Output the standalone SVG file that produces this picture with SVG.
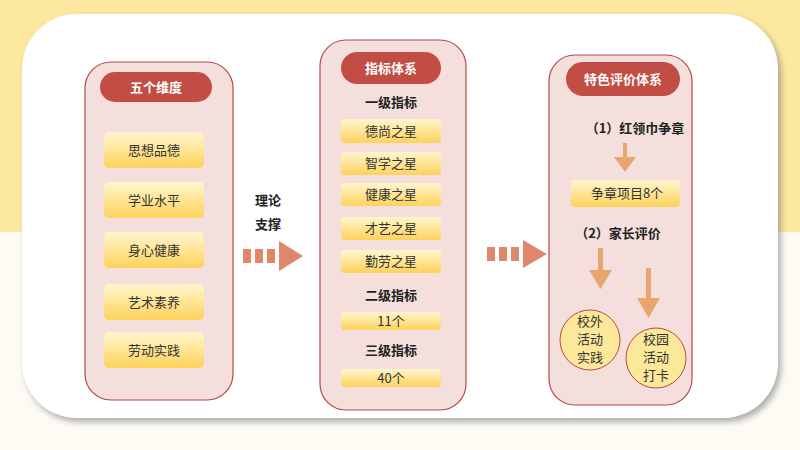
<svg xmlns="http://www.w3.org/2000/svg" width="800" height="450" viewBox="0 0 800 450">
<defs>
<linearGradient id="g" x1="0" y1="0" x2="0" y2="1"><stop offset="0" stop-color="#fff6cf"/><stop offset="1" stop-color="#fdd25a"/></linearGradient>
<filter id="sh" x="-5%" y="-5%" width="110%" height="115%"><feDropShadow dx="3" dy="4" stdDeviation="3" flood-color="#777" flood-opacity="0.6"/></filter>
</defs>
<style>
.col{fill:#f5dfdc;stroke:#b4494a;stroke-width:1.2}
.pill{fill:#c14d44}
.pt{fill:#fff;font:bold 13px "Noto Sans CJK SC",sans-serif;text-anchor:middle}
.it{fill:url(#g)}
.t{fill:#333;font:13px "Noto Sans CJK SC",sans-serif;text-anchor:middle}
.h{fill:#222;font:bold 13px "Noto Sans CJK SC",sans-serif;text-anchor:middle}
.ar{fill:#e8a56e}
.big{fill:#e0876a}
.c{fill:#fde89a;stroke:#b4494a;stroke-width:1}
</style>
<rect width="800" height="450" fill="#fdfbf4"/>
<rect width="800" height="232" fill="#fde8a0"/>
<rect x="22" y="14" width="756" height="404" rx="55" fill="#fff" filter="url(#sh)"/>
<g id="col1">
<rect class="col" x="85" y="62" width="148" height="338" rx="26"/>
<rect class="pill" x="100" y="72" width="112" height="30" rx="15"/><text class="pt" x="156" y="92">五个维度</text>
<rect class="it" x="104" y="132" width="100" height="36" rx="5"/><text class="t" x="154" y="155">思想品德</text>
<rect class="it" x="104" y="182" width="100" height="36" rx="5"/><text class="t" x="154" y="205">学业水平</text>
<rect class="it" x="104" y="232" width="100" height="36" rx="5"/><text class="t" x="154" y="255">身心健康</text>
<rect class="it" x="104" y="284" width="100" height="36" rx="5"/><text class="t" x="154" y="307">艺术素养</text>
<rect class="it" x="104" y="332" width="100" height="36" rx="5"/><text class="t" x="154" y="355">劳动实践</text>
</g>
<g id="col2">
<rect class="col" x="320" y="40" width="146" height="370" rx="26"/>
<rect class="pill" x="341" y="52" width="100" height="32" rx="16"/><text class="pt" x="391" y="73">指标体系</text>
<text class="h" x="391" y="107">一级指标</text>
<rect class="it" x="341" y="119" width="100" height="24" rx="4"/><text class="t" x="391" y="136">德尚之星</text>
<rect class="it" x="341" y="152" width="100" height="23" rx="4"/><text class="t" x="391" y="168">智学之星</text>
<rect class="it" x="341" y="183" width="100" height="23" rx="4"/><text class="t" x="391" y="199">健康之星</text>
<rect class="it" x="341" y="217" width="100" height="23" rx="4"/><text class="t" x="391" y="233">才艺之星</text>
<rect class="it" x="341" y="250" width="100" height="23" rx="4"/><text class="t" x="391" y="266">勤劳之星</text>
<text class="h" x="391" y="300">二级指标</text>
<rect class="it" x="341" y="312" width="100" height="18" rx="4"/><text class="t" x="391" y="326">11个</text>
<text class="h" x="391" y="355">三级指标</text>
<rect class="it" x="341" y="369" width="100" height="18" rx="4"/><text class="t" x="391" y="383">40个</text>
</g>
<g id="col3">
<rect class="col" x="549" y="55" width="143" height="350" rx="26"/>
<rect class="pill" x="566" y="62" width="114" height="34" rx="17"/><text class="pt" x="623" y="84">特色评价体系</text>
<text class="h" x="635" y="133" font-weight="normal">（1）红领巾争章</text>
<rect class="it" x="571" y="180" width="109" height="27" rx="4"/><text class="t" x="627" y="198">争章项目8个</text>
<text class="h" x="618" y="238" font-weight="normal">（2）家长评价</text>
<circle class="c" cx="590" cy="340" r="30"/>
<text class="t" x="590" y="326">校外</text><text class="t" x="590" y="344">活动</text><text class="t" x="590" y="362">实践</text>
<circle class="c" cx="656" cy="358" r="30"/>
<text class="t" x="656" y="344">校园</text><text class="t" x="656" y="362">活动</text><text class="t" x="656" y="380">打卡</text>
</g>
<g id="connectors">
<path class="big" d="M243 249h8v14h-8zM255 249h8v14h-8zM267 249h8v14h-8zM279 241l24 15l-24 15z"/>
<text class="h" x="268" y="205" font-size="15">理论</text>
<text class="h" x="268" y="229" font-size="15">支撑</text>
<path class="big" d="M487 247h8v14h-8zM499 247h8v14h-8zM511 247h8v14h-8zM523 240l24 14l-24 14z"/>
<path class="ar" d="M623 143h4v14h-4zM614 157h22l-11 15z"/>
<path class="ar" d="M598 248h5v22h-5zM589 270h23l-11.5 19z"/>
<path class="ar" d="M646 268h5v30h-5zM637 298h23l-11.5 20z"/>
</g>
</svg>
